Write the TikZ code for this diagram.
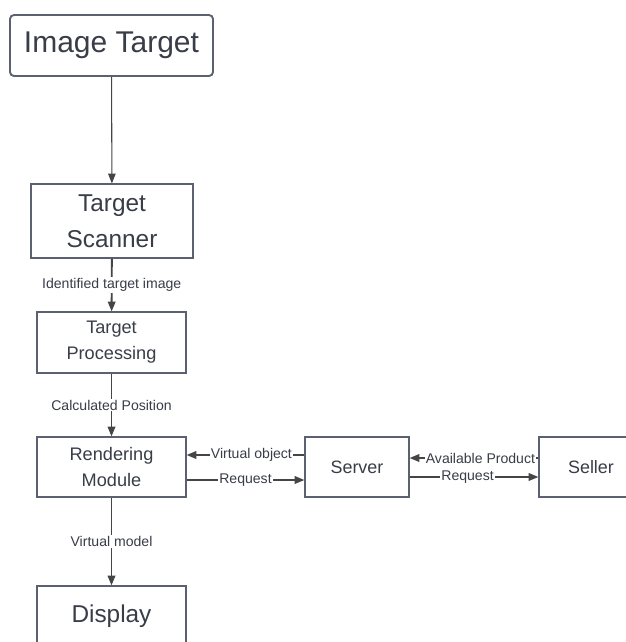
\documentclass[tikz,border=0pt]{standalone}
\usepackage{fontspec}
\setmainfont{Liberation Sans}
\usetikzlibrary{arrows.meta}
\definecolor{boxline}{HTML}{5B6170}
\definecolor{boxtext}{HTML}{383D48}
\definecolor{wire}{HTML}{454545}
\tikzset{
	block/.style={draw=boxline, line width=0.9pt, fill=white, text=boxtext, align=center, inner sep=0pt},
	flow/.style={draw=wire, line width=1.6pt, -{Stealth[length=8.5pt,width=6.5pt,inset=0pt]}},
	tag/.style={fill=white, text=boxtext, inner sep=1pt, font=\fontsize{12}{14}\selectfont}
}
\begin{document}
\begin{tikzpicture}[x=0.03cm, y=-0.03cm]
		\clip (0, 0) rectangle (626, 642);
		\fill[white] (0, 0) rectangle (626, 642);
		\node[block, line width=1.6pt, rounded corners=0.12cm, minimum width=6.09cm, minimum height=1.83cm, font=\fontsize{25.6}{30}\selectfont] (imgtarget) at (111.5, 45.5) {Image Target};
		\node[block, minimum width=4.86cm, minimum height=2.22cm, font=\fontsize{20.8}{30.6}\selectfont] (scanner) at (112, 221) {Target\\Scanner};
		\node[block, minimum width=4.47cm, minimum height=1.83cm, font=\fontsize{15.5}{22}\selectfont] (processing) at (111.5, 342.5) {Target\\Processing};
		\node[block, minimum width=4.47cm, minimum height=1.8cm, font=\fontsize{15.5}{21.5}\selectfont] (rendering) at (111.5, 467) {Rendering\\Module};
		\node[block, minimum width=4.47cm, minimum height=1.8cm, font=\fontsize{20.8}{25}\selectfont] (display) at (111.5, 616) {Display};
		\node[block, minimum width=3.12cm, minimum height=1.8cm, font=\fontsize{15.3}{18}\selectfont] (server) at (357, 467) {Server};
		\node[block, minimum width=3.12cm, minimum height=1.8cm, font=\fontsize{15.3}{18}\selectfont] (seller) at (591, 467) {Seller};
		\draw [flow, line width=0.9pt] (imgtarget) -- (scanner);
		\draw [flow] (scanner) -- (processing) node[tag, midway] {Identified target image};
		\draw [flow] (processing) -- (rendering) node[tag, midway] {Calculated Position};
		\draw [flow] (rendering) -- (display) node[tag, midway] {Virtual model};
		\draw [flow] ([yshift=0.36cm]server.west) -- ([yshift=0.36cm]rendering.east) node[tag, pos=0.45] {Virtual object};
		\draw [flow] ([yshift=-0.39cm]rendering.east) -- ([yshift=-0.39cm]server.west) node[tag, midway] {Request};
		\draw [flow] ([yshift=0.27cm]seller.west) -- ([yshift=0.27cm]server.east) node[tag, pos=0.45] {Available Product};
		\draw [flow] ([yshift=-0.30cm]server.east) -- ([yshift=-0.30cm]seller.west) node[tag, pos=0.45] {Request};
\end{tikzpicture}
\end{document}
